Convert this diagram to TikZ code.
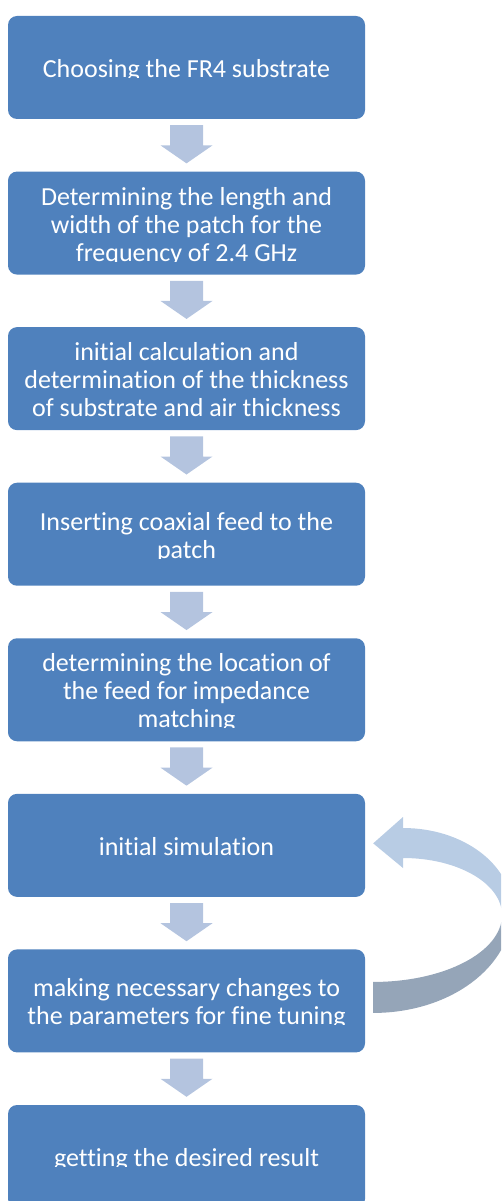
\documentclass[tikz,border=0pt]{standalone}
\usepackage{fontspec}
\setmainfont{Carlito}[Ligatures=NoCommon]
\usetikzlibrary{calc}

\definecolor{boxblue}{RGB}{79,129,189}
\definecolor{arrowblue}{RGB}{180,196,223}
\definecolor{looplight}{RGB}{184,204,228}
\definecolor{loopdark}{RGB}{149,165,184}

\pgfdeclareverticalshading{loopshade}{100bp}{color(0bp)=(loopdark); color(46bp)=(loopdark); color(52bp)=(looplight); color(100bp)=(looplight)}

\begin{document}
\begin{tikzpicture}[x=1pt, y=1pt,
    stepbox/.style={fill=boxblue, rounded corners=9pt, minimum width=357pt, minimum height=103pt, inner sep=0pt},
    steptext/.style={text=white, inner sep=0pt, font=\fontsize{26}{28}\selectfont},
    flowarrow/.style={fill=arrowblue},
    looparrow/.style={shading=loopshade}]

    \useasboundingbox (0,0) rectangle (501,-1201);
    \clip (0,0) rectangle (501,-1201);

    % Steps (text cut at the last baseline)
    \foreach \i/\n/\txt in {
        1/1/{Choosing the FR4 substrate},
        2/3/{Determining the length and\\width of the patch for the\\frequency of 2.4 GHz},
        3/3/{initial calculation and\\determination of the thickness\\of substrate and air thickness},
        4/2/{Inserting coaxial feed to the\\patch},
        5/3/{determining the location of\\the feed for impedance\\matching},
        6/1/{initial simulation},
        7/2/{making necessary changes to\\the parameters for fine tuning},
        8/1/{getting the desired result}}{
    \node[stepbox] (b\i) at (186.5,{-67.5-155.57*(\i-1)}) {};
    \pgfmathsetmacro\drop{10+14*(\n-1)}
    \begin{scope}
        \clip ([yshift=-\drop pt]b\i.west) rectangle (b\i.north east);
        \node[steptext, anchor=base] (t\i) at ([yshift=-\drop pt]b\i.center) {\parbox[b]{350pt}{\centering\txt}};
    \end{scope}
    }

    % Down arrows between the steps
    \foreach \i [evaluate=\i as \j using int(\i+1)] in {1,...,7}
    \fill[flowarrow] ([shift={(-16.5,-6)}]b\i.south) -- ([shift={(16.5,-6)}]b\i.south)
        -- ([shift={(16.5,26)}]b\j.north) -- ([shift={(26,26)}]b\j.north)
        -- ([yshift=8pt]b\j.north) -- ([shift={(-26,26)}]b\j.north)
        -- ([shift={(-16.5,26)}]b\j.north) -- cycle;

    % Feedback loop from step 7 back to step 6
    \shade[looparrow] ([shift={(8,-12)}]b7.east)
        .. controls (449.8,-1013) and (512,-966.9) .. (512,-910)
        .. controls (512,-864.7) and (463.2,-828) .. (403,-828)
        -- (403,-817) -- ([shift={(8,2)}]b6.east) -- (403,-868) -- (403,-858)
        .. controls (457.7,-858) and (502,-883.5) .. (502,-915)
        .. controls (502,-952) and (444.2,-982) .. ([shift={(8,19)}]b7.east) -- cycle;
\end{tikzpicture}
\end{document}
